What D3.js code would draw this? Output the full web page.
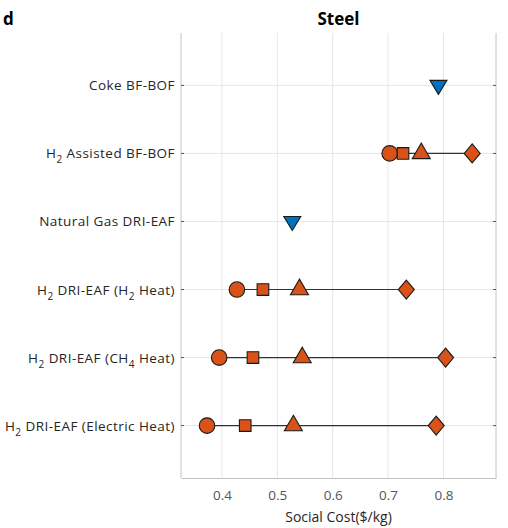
<!DOCTYPE html>
<html>
<head>
<meta charset="utf-8">
<script src="https://cdn.jsdelivr.net/npm/d3@7"></script>
<style>
  body { margin: 0; background: #fff; }
  text { font-family: "Open Sans", "Noto Sans", sans-serif; }
</style>
</head>
<body>
<div id="chart"></div>
<script>
(function() {
    // rows, top to bottom; label parts: [text, isSubscript]
    const pathways = ['coke', 'h2bf', 'ng', 'h2heat', 'ch4heat', 'elec'];
    const labels = [
        [['Coke BF-BOF', 0]],
        [['H', 0], ['2', 1], [' Assisted BF-BOF', 0]],
        [['Natural Gas DRI-EAF', 0]],
        [['H', 0], ['2', 1], [' DRI-EAF (H', 0], ['2', 1], [' Heat)', 0]],
        [['H', 0], ['2', 1], [' DRI-EAF (CH', 0], ['4', 1], [' Heat)', 0]],
        [['H', 0], ['2', 1], [' DRI-EAF (Electric Heat)', 0]]
    ];
    // conventional routes (single value)
    const conventional = [
        { row: 'coke', cost: 0.791 },
        { row: 'ng', cost: 0.527 }
    ];
    // hydrogen routes, one value per H2 scenario
    const circleCost = [0.703, 0.427, 0.395, 0.373];
    const squareCost = [0.727, 0.474, 0.456, 0.442];
    const triangleCost = [0.760, 0.540, 0.545, 0.529];
    const diamondCost = [0.852, 0.733, 0.804, 0.787];
    const h2Rows = ['h2bf', 'h2heat', 'ch4heat', 'elec'];
    const xTicks = [0.4, 0.5, 0.6, 0.7, 0.8];

    const W = 508, H = 528;
    const m = { left: 181, right: 12, top: 33, bottom: 50 };

    let svg = d3.select('#chart').append('svg')
        .attr('width', W)
        .attr('height', H);

    let x = d3.scaleLinear()
        .domain([0.326, 0.895])
        .range([m.left, W - m.right]);
    let y = d3.scalePoint()
        .domain(pathways)
        .range([m.top, H - m.bottom])
        .padding(0.77);

    // grid
    svg.append('g').selectAll('line')
        .data(xTicks)
        .enter()
        .append('line')
        .attr('x1', d => x(d)).attr('x2', d => x(d))
        .attr('y1', m.top).attr('y2', H - m.bottom)
        .attr('stroke', '#e6e6e6');
    svg.append('g').selectAll('line')
        .data(pathways)
        .enter()
        .append('line')
        .attr('x1', m.left).attr('x2', W - m.right)
        .attr('y1', d => y(d)).attr('y2', d => y(d))
        .attr('stroke', '#e6e6e6');

    // box edges (left, right, bottom)
    const edge = '#c4c4c4';
    svg.append('line').attr('x1', m.left).attr('x2', m.left)
        .attr('y1', m.top).attr('y2', H - m.bottom).attr('stroke', edge);
    svg.append('line').attr('x1', W - m.right).attr('x2', W - m.right)
        .attr('y1', m.top).attr('y2', H - m.bottom).attr('stroke', edge);

    let xAxis = svg.append('g')
        .attr('transform', 'translate(0,' + (H - m.bottom) + ')')
        .call(d3.axisBottom(x).tickValues(xTicks).tickSize(0).tickPadding(12)
            .tickFormat(d3.format('.1f')));
    xAxis.select('.domain').attr('stroke', edge);
    xAxis.selectAll('text')
        .attr('font-size', 13.5)
        .attr('fill', '#555')
        .style('font-family', '"Open Sans", sans-serif');

    // y ticks on both sides
    svg.append('g').selectAll('line')
        .data(pathways)
        .enter()
        .append('line')
        .attr('x1', m.left).attr('x2', m.left + 3)
        .attr('y1', d => y(d)).attr('y2', d => y(d))
        .attr('stroke', '#555');
    svg.append('g').selectAll('line')
        .data(pathways)
        .enter()
        .append('line')
        .attr('x1', W - m.right - 3).attr('x2', W - m.right)
        .attr('y1', d => y(d)).attr('y2', d => y(d))
        .attr('stroke', '#555');

    // y labels
    let lab = svg.append('g').selectAll('text')
        .data(pathways)
        .enter()
        .append('text')
        .attr('x', m.left - 6)
        .attr('y', d => y(d) + 5)
        .attr('text-anchor', 'end')
        .attr('font-size', 13.5)
        .attr('letter-spacing', 0.45)
        .attr('fill', '#262626');
    lab.each(function(d, i) {
        let t = d3.select(this);
        let sub = false;
        labels[i].forEach(part => {
            let dy = 0;
            if (part[1] && !sub) dy = 5;
            if (!part[1] && sub) dy = -5;
            sub = !!part[1];
            t.append('tspan')
                .attr('dy', dy)
                .attr('font-size', part[1] ? 10 : 13.5)
                .text(part[0]);
        });
    });

    const orange = '#D95319', blue = '#0072BD', stroke = '#1a1a1a';

    // connecting lines
    svg.append('g').selectAll('line')
        .data(h2Rows)
        .enter()
        .append('line')
        .attr('x1', (d, i) => x(circleCost[i]))
        .attr('x2', (d, i) => x(diamondCost[i]))
        .attr('y1', d => y(d)).attr('y2', d => y(d))
        .attr('stroke', '#333')
        .attr('stroke-width', 1.2);

    function markers(costs, type, size) {
        svg.append('g').selectAll('path')
            .data(h2Rows)
            .enter()
            .append('path')
            .attr('d', d3.symbol().type(type).size(size))
            .attr('transform', (d, i) => 'translate(' + x(costs[i]) + ',' + y(d) + ')')
            .attr('fill', orange)
            .attr('stroke', stroke)
            .attr('stroke-width', 1.1);
    }
    markers(circleCost, d3.symbolCircle, 190);
    markers(squareCost, d3.symbolSquare, 135);
    markers(triangleCost, d3.symbolTriangle, 140);

    // diamond drawn as rhombus
    svg.append('g').selectAll('path')
        .data(h2Rows)
        .enter()
        .append('path')
        .attr('d', 'M0,-9.5L8,0L0,9.5L-8,0Z')
        .attr('transform', (d, i) => 'translate(' + x(diamondCost[i]) + ',' + y(d) + ')')
        .attr('fill', orange)
        .attr('stroke', stroke)
        .attr('stroke-width', 1.1);

    svg.append('g').selectAll('path')
        .data(conventional)
        .enter()
        .append('path')
        .attr('d', 'M-8.5,-6L8.5,-6L0,8Z')
        .attr('transform', d => 'translate(' + x(d.cost) + ',' + (y(d.row) + 1) + ')')
        .attr('fill', blue)
        .attr('stroke', stroke)
        .attr('stroke-width', 1.1);

    svg.append('text')
        .attr('x', (m.left + W - m.right) / 2)
        .attr('y', 25)
        .attr('text-anchor', 'middle')
        .attr('font-size', 17)
        .attr('font-weight', 'bold')
        .text('Steel');
    svg.append('text')
        .attr('x', 3)
        .attr('y', 25)
        .attr('font-size', 17)
        .attr('font-weight', 'bold')
        .text('d');
    svg.append('text')
        .attr('x', (m.left + W - m.right) / 2)
        .attr('y', 522)
        .attr('text-anchor', 'middle')
        .attr('font-size', 14)
        .attr('fill', '#262626')
        .text('Social Cost($/kg)');
})();
</script>
</body>
</html>
